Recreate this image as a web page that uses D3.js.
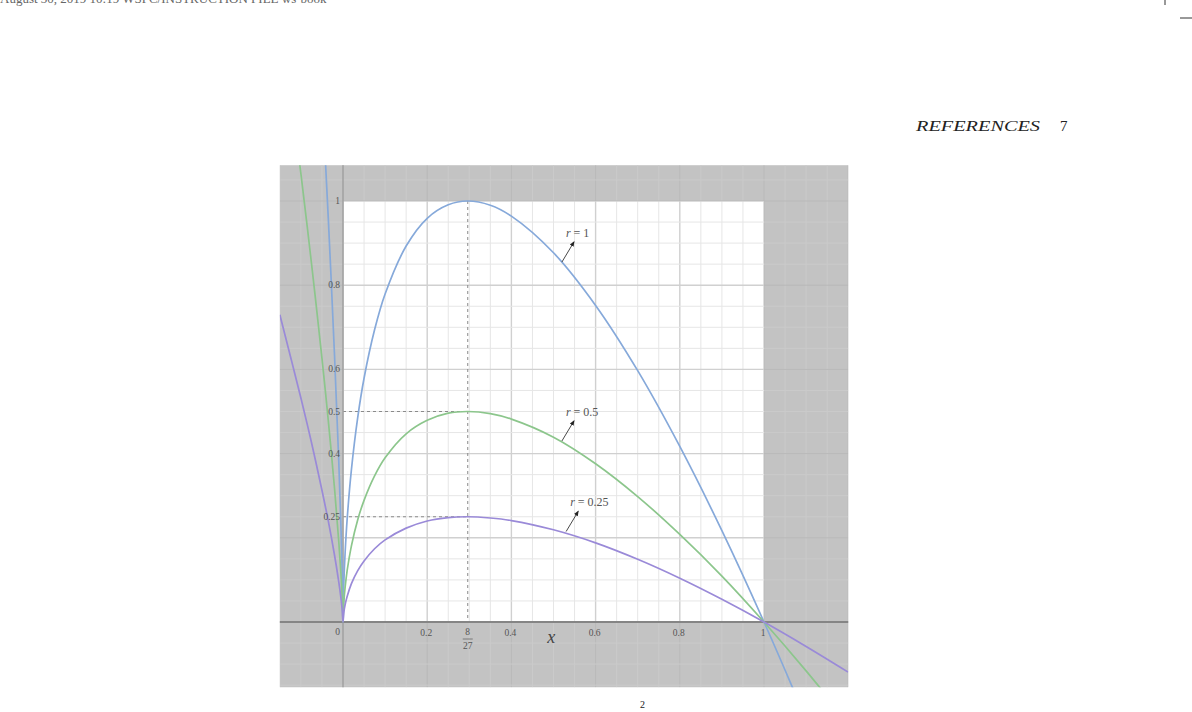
<!DOCTYPE html>
<html>
<head>
<meta charset="utf-8">
<script src="https://cdn.jsdelivr.net/npm/d3@7"></script>
<style>
  body { margin: 0; background: #fff; }
</style>
</head>
<body>
<div id="chart"></div>
<script>
// values
var xValues = [-0.15, -0.1, -0.075, -0.05, -0.035, -0.02, -0.01, -0.005, -0.002, 0,
               0.002, 0.005, 0.01, 0.02, 0.035, 0.05, 0.075, 0.1, 0.15, 0.2, 0.25, 0.296,
               0.35, 0.4, 0.5, 0.6, 0.7, 0.8, 0.9, 1, 1.1, 1.2];
var r1Values = [2.92, 2.13, 1.71, 1.25, 0.96, 0.63, 0.38, 0.23, 0.12, 0,
                0.094, 0.164, 0.246, 0.362, 0.486, 0.579, 0.694, 0.779, 0.893, 0.959, 0.991, 1.0,
                0.99, 0.964, 0.877, 0.752, 0.597, 0.417, 0.217, 0, -0.232, -0.478];
var r05Values = [1.46, 1.065, 0.853, 0.627, 0.479, 0.316, 0.19, 0.116, 0.06, 0,
                 0.047, 0.082, 0.123, 0.181, 0.243, 0.289, 0.347, 0.39, 0.447, 0.479, 0.496, 0.5,
                 0.495, 0.482, 0.439, 0.376, 0.298, 0.208, 0.109, 0, -0.116, -0.239];
var r025Values = [0.73, 0.532, 0.427, 0.313, 0.24, 0.158, 0.095, 0.058, 0.03, 0,
                  0.023, 0.041, 0.061, 0.091, 0.122, 0.145, 0.174, 0.195, 0.223, 0.24, 0.248, 0.25,
                  0.247, 0.241, 0.219, 0.188, 0.149, 0.104, 0.054, 0, -0.058, -0.119];
var seriesNames = ["r = 1", "r = 0.5", "r = 0.25"];
var peakLevels = [1, 0.5, 0.25];
var peakX = 8 / 27;
var xTicks = [0.2, 0.4, 0.6, 0.8, 1];
var xTickLabels = ["0.2", "0.4", "0.6", "0.8", "1"];
var yTicks = [1, 0.8, 0.6, 0.5, 0.4, 0.25];
var yTickLabels = ["1", "0.8", "0.6", "0.5", "0.4", "0.25"];
var labelAtX = [0.52, 0.52, 0.53];
var labelAtY = [0.855, 0.43, 0.215];

var colors = ["#86a9da", "#8cc68c", "#9a8ad8"];
var serif = "'Liberation Serif', 'DejaVu Serif', serif";

var width = 1192, height = 712;

var x = d3.scaleLinear().domain([0, 1]).range([343, 764]);
var y = d3.scaleLinear().domain([0, 1]).range([622, 201]);
var xExtent = [-0.15, 1.2],
    yExtent = [-0.155, 1.085];

var svg = d3.select("#chart").append("svg")
  .attr("width", width)
  .attr("height", height);

var defs = svg.append("defs");
defs.append("clipPath").attr("id", "fig")
  .append("rect")
  .attr("x", x(xExtent[0]))
  .attr("y", y(yExtent[1]))
  .attr("width", x(xExtent[1]) - x(xExtent[0]))
  .attr("height", y(yExtent[0]) - y(yExtent[1]));
defs.append("clipPath").attr("id", "inner")
  .append("rect")
  .attr("x", x(0))
  .attr("y", y(1))
  .attr("width", x(1) - x(0))
  .attr("height", y(0) - y(1));
defs.append("marker")
  .attr("id", "arrow")
  .attr("viewBox", "0 0 10 10")
  .attr("refX", 8)
  .attr("refY", 5)
  .attr("markerWidth", 6)
  .attr("markerHeight", 6)
  .attr("orient", "auto")
  .append("path")
  .attr("d", "M0,1 L10,5 L0,9 z")
  .attr("fill", "#222");

// page furniture
svg.append("text")
  .text("August 30, 2019 10:19 WSPC/INSTRUCTION FILE ws-book")
  .attr("x", 0).attr("y", 3)
  .attr("font-family", serif).attr("font-size", "13px")
  .attr("fill", "#666");
svg.append("line").attr("x1", 1165).attr("x2", 1165).attr("y1", 0).attr("y2", 5)
  .attr("stroke", "#333").attr("stroke-width", 1);
svg.append("line").attr("x1", 1180).attr("x2", 1192).attr("y1", 18).attr("y2", 18)
  .attr("stroke", "#333").attr("stroke-width", 1);
svg.append("text")
  .text("REFERENCES")
  .attr("x", 916).attr("y", 131)
  .attr("textLength", 124).attr("lengthAdjust", "spacingAndGlyphs")
  .attr("font-family", serif).attr("font-style", "italic").attr("font-size", "15px")
  .attr("fill", "#222");
svg.append("text")
  .text("7")
  .attr("x", 1060).attr("y", 131)
  .attr("font-family", serif).attr("font-size", "15px")
  .attr("fill", "#222");

// figure background
var fig = svg.append("g");
fig.append("rect")
  .attr("x", x(xExtent[0]))
  .attr("y", y(yExtent[1]))
  .attr("width", x(xExtent[1]) - x(xExtent[0]))
  .attr("height", y(yExtent[0]) - y(yExtent[1]))
  .attr("fill", "#c3c3c3");

var gridX = d3.range(-3, 25).map(function (i) { return i * 0.05; });
var gridY = d3.range(-3, 22).map(function (i) { return i * 0.05; });
function isMajor(v) { return Math.abs(Math.round(v / 0.2) * 0.2 - v) < 1e-6; }

var outerGrid = fig.append("g").attr("clip-path", "url(#fig)");
outerGrid.selectAll("line.vx")
  .data(gridX).enter().append("line")
  .attr("class", "vx")
  .attr("x1", function (d) { return x(d); }).attr("x2", function (d) { return x(d); })
  .attr("y1", y(yExtent[0])).attr("y2", y(yExtent[1]))
  .attr("stroke", function (d) { return isMajor(d) ? "#b9b9b9" : "#cacaca"; })
  .attr("stroke-width", 1);
outerGrid.selectAll("line.hy")
  .data(gridY).enter().append("line")
  .attr("class", "hy")
  .attr("y1", function (d) { return y(d); }).attr("y2", function (d) { return y(d); })
  .attr("x1", x(xExtent[0])).attr("x2", x(xExtent[1]))
  .attr("stroke", function (d) { return isMajor(d) ? "#b9b9b9" : "#cacaca"; })
  .attr("stroke-width", 1);

fig.append("rect")
  .attr("x", x(0)).attr("y", y(1))
  .attr("width", x(1) - x(0)).attr("height", y(0) - y(1))
  .attr("fill", "#fff");

var innerGrid = fig.append("g").attr("clip-path", "url(#inner)");
innerGrid.selectAll("line.vx")
  .data(gridX).enter().append("line")
  .attr("class", "vx")
  .attr("x1", function (d) { return x(d); }).attr("x2", function (d) { return x(d); })
  .attr("y1", y(0)).attr("y2", y(1))
  .attr("stroke", function (d) { return isMajor(d) ? "#d0d0d0" : "#e6e6e6"; })
  .attr("stroke-width", function (d) { return isMajor(d) ? 1.4 : 1; });
innerGrid.selectAll("line.hy")
  .data(gridY).enter().append("line")
  .attr("class", "hy")
  .attr("y1", function (d) { return y(d); }).attr("y2", function (d) { return y(d); })
  .attr("x1", x(0)).attr("x2", x(1))
  .attr("stroke", function (d) { return isMajor(d) ? "#d0d0d0" : "#e6e6e6"; })
  .attr("stroke-width", function (d) { return isMajor(d) ? 1.4 : 1; });

// dashed guides to the maximum
fig.append("line")
  .attr("x1", x(peakX)).attr("x2", x(peakX))
  .attr("y1", y(1)).attr("y2", y(0))
  .attr("stroke", "#8a8a8a").attr("stroke-width", 1)
  .attr("stroke-dasharray", "3,3");
fig.selectAll("line.level")
  .data(peakLevels.slice(1)).enter().append("line")
  .attr("class", "level")
  .attr("x1", x(0)).attr("x2", x(peakX))
  .attr("y1", function (d) { return y(d); }).attr("y2", function (d) { return y(d); })
  .attr("stroke", "#8a8a8a").attr("stroke-width", 1)
  .attr("stroke-dasharray", "3,3");

// axes
fig.append("line")
  .attr("x1", x(0)).attr("x2", x(0))
  .attr("y1", y(yExtent[0])).attr("y2", y(yExtent[1]))
  .attr("stroke", "#a2a2a2").attr("stroke-width", 1.5);
fig.append("line")
  .attr("x1", x(xExtent[0])).attr("x2", x(xExtent[1]))
  .attr("y1", y(0)).attr("y2", y(0))
  .attr("stroke", "#858585").attr("stroke-width", 2);

// curves
var series = [r1Values, r05Values, r025Values];
var line = d3.line()
  .x(function (d) { return x(d[0]); })
  .y(function (d) { return y(d[1]); })
  .curve(d3.curveCatmullRom.alpha(0.5));

fig.append("g").attr("clip-path", "url(#fig)")
  .selectAll("path.curve")
  .data(series).enter().append("path")
  .attr("class", "curve")
  .attr("d", function (vals) { return line(xValues.map(function (xv, i) { return [xv, vals[i]]; })); })
  .attr("fill", "none")
  .attr("stroke", function (d, i) { return colors[i]; })
  .attr("stroke-width", 1.7);

// tick labels
fig.selectAll("text.ylab")
  .data(yTicks).enter().append("text")
  .attr("class", "ylab")
  .attr("x", x(0) - 3)
  .attr("y", function (d) { return y(d) + 3; })
  .attr("text-anchor", "end")
  .attr("font-family", serif).attr("font-size", "9.5px")
  .attr("fill", "#555")
  .text(function (d, i) { return yTickLabels[i]; });

fig.append("text")
  .attr("x", x(0) - 3).attr("y", y(0) + 13)
  .attr("text-anchor", "end")
  .attr("font-family", serif).attr("font-size", "9.5px")
  .attr("fill", "#555")
  .text("0");

fig.selectAll("text.xlab")
  .data(xTicks).enter().append("text")
  .attr("class", "xlab")
  .attr("x", function (d) { return x(d) - 1; })
  .attr("y", y(0) + 14)
  .attr("text-anchor", "middle")
  .attr("font-family", serif).attr("font-size", "9.5px")
  .attr("fill", "#555")
  .text(function (d, i) { return xTickLabels[i]; });

// 8/27 fraction
fig.append("text")
  .attr("x", x(peakX)).attr("y", y(0) + 13)
  .attr("text-anchor", "middle")
  .attr("font-family", serif).attr("font-size", "9.5px")
  .attr("fill", "#555")
  .text("8");
fig.append("line")
  .attr("x1", x(peakX) - 5).attr("x2", x(peakX) + 5)
  .attr("y1", y(0) + 17).attr("y2", y(0) + 17)
  .attr("stroke", "#666").attr("stroke-width", 0.8);
fig.append("text")
  .attr("x", x(peakX)).attr("y", y(0) + 27)
  .attr("text-anchor", "middle")
  .attr("font-family", serif).attr("font-size", "9.5px")
  .attr("fill", "#555")
  .text("27");

fig.append("text")
  .attr("x", x(0.485)).attr("y", y(0) + 21)
  .attr("font-family", serif).attr("font-style", "italic").attr("font-size", "18px")
  .attr("fill", "#444")
  .text("x");

// r labels with arrows
fig.selectAll("line.pointer")
  .data(seriesNames).enter().append("line")
  .attr("class", "pointer")
  .attr("x1", function (d, i) { return x(labelAtX[i]); })
  .attr("y1", function (d, i) { return y(labelAtY[i]); })
  .attr("x2", function (d, i) { return x(labelAtX[i]) + 12; })
  .attr("y2", function (d, i) { return y(labelAtY[i]) - 20; })
  .attr("stroke", "#333").attr("stroke-width", 0.9)
  .attr("marker-end", "url(#arrow)");

var labs = fig.selectAll("text.rlab")
  .data(seriesNames).enter().append("text")
  .attr("class", "rlab")
  .attr("x", function (d, i) { return x(labelAtX[i]) + 4; })
  .attr("y", function (d, i) { return y(labelAtY[i]) - 25; })
  .attr("font-family", serif).attr("font-size", "12px")
  .attr("fill", "#555");
labs.append("tspan").attr("font-style", "italic").text("r");
labs.append("tspan").text(function (d) { return d.slice(1); });

// caption, cut by the page edge
svg.append("text")
  .attr("x", 420).attr("y", 723)
  .attr("font-family", serif).attr("font-size", "15px")
  .attr("fill", "#222")
  .text("Fig. 1.  The graphs of  f(x) = r(27/4)x");
svg.append("text")
  .attr("x", 640).attr("y", 708)
  .attr("font-family", serif).attr("font-size", "10px")
  .attr("fill", "#222")
  .text("2");
svg.append("text")
  .attr("x", 660).attr("y", 723)
  .attr("font-family", serif).attr("font-size", "15px")
  .attr("fill", "#222")
  .text("(1 − x)");
</script>
</body>
</html>
